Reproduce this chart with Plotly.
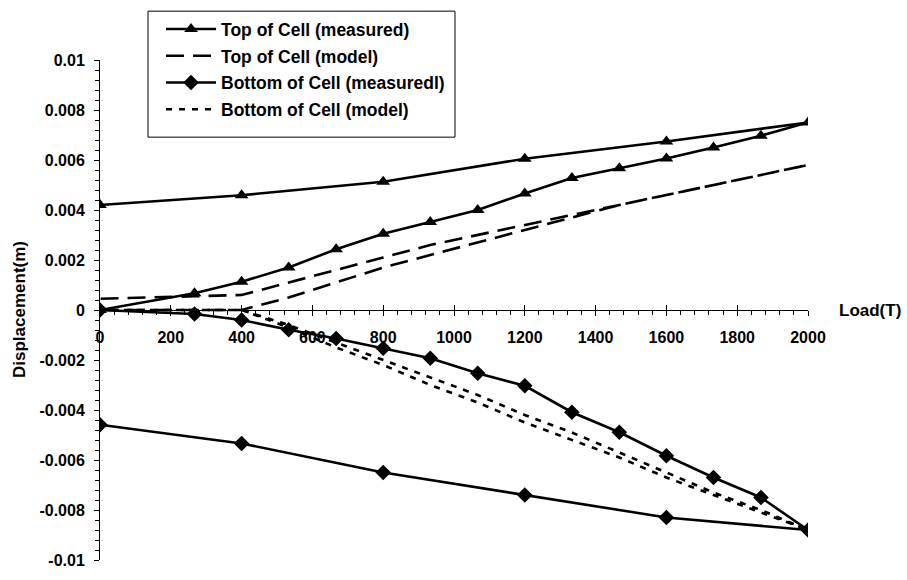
import plotly.graph_objects as go

# ---------------- data ----------------
load_pts = [0, 267, 400, 533, 667, 800, 933, 1067, 1200, 1333, 1467, 1600, 1733, 1867, 2000]
unload_pts = [2000, 1600, 1200, 800, 400, 0]
model_unload_pts = [2000, 1867, 1733, 1600, 1467, 1333, 1200, 1067, 933, 800, 667, 533, 400, 267, 0]

top_meas_load = [0, 0.00067, 0.00113, 0.0017, 0.00243, 0.00305, 0.00352, 0.0040,
                 0.00466, 0.00528, 0.00567, 0.00606, 0.0065, 0.00697, 0.0075]
top_meas_unload = [0.0075, 0.00674, 0.00605, 0.00513, 0.00459, 0.0042]

top_model_load = [0, 0, 0, 0.0005, 0.0011, 0.0017, 0.0022, 0.0027,
                  0.0032, 0.0037, 0.0042, 0.0046, 0.0050, 0.0054, 0.0058]
top_model_unload = [0.0058, 0.0054, 0.0050, 0.0046, 0.0042, 0.0038, 0.0034, 0.0030,
                    0.0026, 0.0021, 0.0016, 0.0011, 0.0006, 0.00055, 0.00045]

bot_meas_load = [0, -0.00016, -0.0004, -0.00079, -0.00114, -0.00153, -0.00193, -0.00253,
                 -0.00303, -0.00409, -0.00489, -0.00583, -0.0067, -0.0075, -0.0088]
bot_meas_unload = [-0.0088, -0.0083, -0.0074, -0.0065, -0.00534, -0.00459]

bot_model_load = [0, 0, 0, -0.0006, -0.0013, -0.0020, -0.0027, -0.0034,
                  -0.0042, -0.0049, -0.0057, -0.0065, -0.0073, -0.0080, -0.0088]
bot_model_unload = [-0.0088, -0.0081, -0.0074, -0.0067, -0.0059, -0.0052, -0.0045, -0.0037,
                    -0.0030, -0.0022, -0.0015, -0.0007, 0, 0, 0]

series_names = ["Top of Cell (measured)", "Top of Cell (model)",
                "Bottom of Cell (measuredl)", "Bottom of Cell (model)"]

x_tickvals = [0, 200, 400, 600, 800, 1000, 1200, 1400, 1600, 1800, 2000]
y_tickvals = [0.01, 0.008, 0.006, 0.004, 0.002, 0, -0.002, -0.004, -0.006, -0.008, -0.01]
y_ticktext = ["0.01", "0.008", "0.006", "0.004", "0.002", "0",
              "-0.002", "-0.004", "-0.006", "-0.008", "-0.01"]

# ---------------- figure ----------------
FONT = "Arial, Liberation Sans, sans-serif"
LW = 2.6

fig = go.Figure()

fig.add_trace(go.Scatter(
    x=load_pts + unload_pts[1:], y=top_meas_load + top_meas_unload[1:],
    mode="lines+markers", name=series_names[0], legendgroup="g1",
    line=dict(color="black", width=LW),
    marker=dict(symbol="triangle-up", size=12, color="black")))

fig.add_trace(go.Scatter(
    x=load_pts + model_unload_pts[1:], y=top_model_load + top_model_unload[1:],
    mode="lines", name=series_names[1], legendgroup="g2",
    line=dict(color="black", width=LW, dash="18px,9px")))

fig.add_trace(go.Scatter(
    x=load_pts + unload_pts[1:], y=bot_meas_load + bot_meas_unload[1:],
    mode="lines+markers", name=series_names[2], legendgroup="g3",
    line=dict(color="black", width=LW),
    marker=dict(symbol="diamond", size=12, color="black")))

fig.add_trace(go.Scatter(
    x=load_pts + model_unload_pts[1:], y=bot_model_load + bot_model_unload[1:],
    mode="lines", name=series_names[3], legendgroup="g4",
    line=dict(color="black", width=LW, dash="6px,7px")))

# helper invisible trace for the overlay axis carrying the crossing major ticks
fig.add_trace(go.Scatter(x=[0, 2000], y=[0, 0], xaxis="x2", mode="lines",
                         line=dict(width=0), showlegend=False, hoverinfo="skip"))

tickfont = dict(family=FONT, size=16, color="black", weight="bold")

fig.update_layout(
    width=907, height=580,
    margin=dict(l=100, r=99, t=57, b=11),
    paper_bgcolor="white", plot_bgcolor="white",
    font=dict(family=FONT, color="black"),
    showlegend=True,
    legend=dict(
        x=0.0862, y=1.0977, xanchor="left", yanchor="top",
        bgcolor="rgba(0,0,0,0)", borderwidth=0,
        font=dict(family=FONT, size=17.5, color="black", weight="bold"),
        traceorder="grouped", tracegroupgap=1,
        itemwidth=50,
    ),
    # legend frame
    shapes=[dict(type="rect", xref="paper", yref="paper",
                 x0=0.0678, x1=0.5014, y0=0.8457, y1=1.0977,
                 line=dict(color="black", width=1), fillcolor="white", layer="above")],
    xaxis=dict(
        range=[0, 2000], anchor="free", position=0.5,
        showgrid=False, zeroline=False,
        showline=True, linecolor="black", linewidth=1,
        tickmode="array", tickvals=x_tickvals,
        ticks="outside", ticklen=5, tickcolor="black", tickwidth=1,
        minor=dict(dtick=40, ticks="outside", ticklen=4, tickcolor="black", tickwidth=1),
        tickfont=tickfont, ticklabelstandoff=8,
    ),
    xaxis2=dict(
        range=[0, 2000], anchor="free", position=0.5, overlaying="x",
        showgrid=False, zeroline=False, showline=False,
        tickmode="array", tickvals=x_tickvals, showticklabels=False,
        ticks="inside", ticklen=5, tickcolor="black", tickwidth=1,
    ),
    yaxis=dict(
        range=[-0.01, 0.01],
        showgrid=False, zeroline=False,
        showline=True, linecolor="black", linewidth=1,
        tickmode="array", tickvals=y_tickvals, ticktext=y_ticktext,
        ticks="outside", ticklen=5, tickcolor="black", tickwidth=1,
        minor=dict(dtick=0.0004, ticks="outside", ticklen=4, tickcolor="black", tickwidth=1),
        tickfont=tickfont, ticklabelstandoff=6,
    ),
    annotations=[
        dict(text="Load(T)", xref="paper", yref="paper", x=1.041, y=0.5,
             xanchor="left", yanchor="middle", showarrow=False,
             font=dict(family=FONT, size=17, color="black", weight="bold")),
        dict(text="Displacement(m)", xref="paper", yref="paper", x=-0.1144, y=0.5,
             xanchor="center", yanchor="middle", textangle=-90, showarrow=False,
             font=dict(family=FONT, size=17, color="black", weight="bold")),
    ],
)

fig.write_html("out.html")
